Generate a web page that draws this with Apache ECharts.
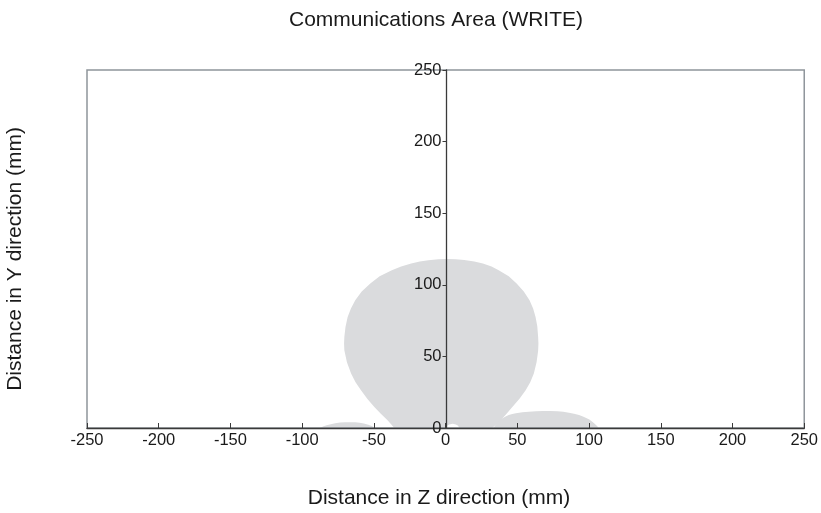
<!DOCTYPE html>
<html>
<head>
<meta charset="utf-8">
<script src="https://cdn.jsdelivr.net/npm/echarts@6/dist/echarts.min.js"></script>
<style>
  html, body { margin: 0; padding: 0; background: #fff; }
  #main { width: 821px; height: 513px; }
</style>
</head>
<body>
<div id="main"></div>
<script>
// outlines of the communication area, [z, y] in mm
let mainLobe = [
  [32.5, 0], [35.5, 2.6], [38.4, 5.4], [42.5, 10], [46.5, 14.7], [51.5, 20.5],
  [55.8, 26.3], [59, 32], [61.5, 38], [63.4, 46], [64.5, 54], [64.7, 59],
  [64.5, 63.6], [63.9, 71], [62.7, 77.6], [61, 83.5], [58.5, 89.2],
  [54.5, 95.3], [49.5, 100.9], [44, 106], [37, 110.2], [32, 112.8],
  [26, 114.9], [20, 116.3], [13, 117.4], [7, 117.9], [1, 118], [-5, 117.8],
  [-12, 117.2], [-18, 116.2], [-24, 114.9], [-31, 112.8], [-37.5, 110.2],
  [-46, 106], [-52.5, 100.9], [-58.5, 95.3], [-63, 89.2], [-66, 83.5],
  [-68.3, 77.6], [-69.8, 70.5], [-70.6, 63.6], [-70.8, 59], [-70.6, 54.3],
  [-68.8, 46], [-65.9, 38], [-62.8, 32], [-59, 26.3], [-54.5, 20.3],
  [-49.7, 14.7], [-45, 9.8], [-40.5, 5.4], [-38, 2.6], [-35.8, 0],
  [0, 0], [1, 1.6], [2.5, 2.5], [5, 3], [7.2, 2.5], [8.7, 1.5], [9.5, 0]
];
let leftLobe = [
  [-87.5, 0], [-85.5, 1], [-83, 1.9], [-80, 2.7], [-77, 3.3], [-73.5, 3.8],
  [-70, 4.1], [-66.5, 4.1], [-63, 4.0], [-60, 3.7], [-57, 3.2], [-54.5, 2.5],
  [-52, 1.6], [-50.5, 0.8], [-49.5, 0]
];
let rightLobe = [
  [33.5, 0], [34.3, 1.5], [35.5, 3], [37, 4.8], [39, 6.5], [41.5, 7.9],
  [44, 9], [46.5, 9.8], [49, 10.3], [53.5, 11], [58, 11.4], [63, 11.7],
  [68, 11.9], [73, 11.9], [78, 11.7], [82, 11.3], [86, 10.7], [89.5, 10],
  [93, 9], [95.7, 8.1], [98, 7], [100.2, 5.9], [102, 4.5], [103.7, 3.2],
  [105, 2], [105.9, 1], [106.5, 0]
];
let lobes = [mainLobe, leftLobe, rightLobe];

let xMin = -250, xMax = 250, xStep = 50;
let yMin = 0, yMax = 250, yStep = 50;

let chart = echarts.init(document.getElementById('main'), null, { renderer: 'canvas' });

let labelFont = 'Liberation Sans, Arial, sans-serif';
let gridLeft = 87, gridRight = 15;
// y axis sits on z = 0, so shift the whole axis (line, ticks, labels) there
let plotW = 821 - gridLeft - gridRight;
let yAxisOffset = -plotW * (0 - xMin) / (xMax - xMin);

let option = {
  animation: false,
  grid: {
    left: gridLeft, right: gridRight, top: 70, bottom: 85,
    show: true,
    borderColor: '#8f959b',
    borderWidth: 1.5,
    backgroundColor: 'transparent'
  },
  graphic: [
    {
      type: 'text', x: 436, y: 20,
      style: {
        text: 'Communications Area (WRITE)',
        fontFamily: labelFont, fontSize: 21, fill: '#1a1a1a',
        textAlign: 'center', textVerticalAlign: 'middle'
      }
    },
    {
      type: 'text', x: 439, y: 498,
      style: {
        text: 'Distance in Z direction (mm)',
        fontFamily: labelFont, fontSize: 21, fill: '#1a1a1a',
        textAlign: 'center', textVerticalAlign: 'middle'
      }
    },
    {
      type: 'text', x: 15, y: 259, rotation: Math.PI / 2,
      style: {
        text: 'Distance in Y direction (mm)',
        fontFamily: labelFont, fontSize: 21, fill: '#1a1a1a',
        textAlign: 'center', textVerticalAlign: 'middle'
      }
    }
  ],
  xAxis: {
    type: 'value',
    min: xMin, max: xMax, interval: xStep,
    axisLine: { onZero: false, lineStyle: { color: '#3a3a3a', width: 1.3 } },
    axisTick: { inside: true, length: 5, lineStyle: { color: '#3a3a3a' } },
    axisLabel: { fontFamily: labelFont, fontSize: 16.5, color: '#1a1a1a', margin: 4 },
    splitLine: { show: false }
  },
  yAxis: {
    type: 'value',
    min: yMin, max: yMax, interval: yStep,
    offset: yAxisOffset,
    axisLine: { show: true, onZero: false, lineStyle: { color: '#3a3a3a', width: 1.3 } },
    axisTick: { show: true, length: 4, lineStyle: { color: '#3a3a3a' } },
    axisLabel: { fontFamily: labelFont, fontSize: 16.5, color: '#1a1a1a', margin: 5 },
    splitLine: { show: false }
  },
  series: [
    {
      type: 'custom',
      z: -1,
      clip: true,
      data: lobes.map((pts, i) => ({ value: [0, 0], name: 'lobe' + i })),
      renderItem: function (params, api) {
        let pts = lobes[params.dataIndex].map(p => api.coord(p));
        return {
          type: 'polygon',
          shape: { points: pts },
          style: { fill: '#dadbdd', stroke: null }
        };
      }
    }
  ]
};

chart.setOption(option);
</script>
</body>
</html>
